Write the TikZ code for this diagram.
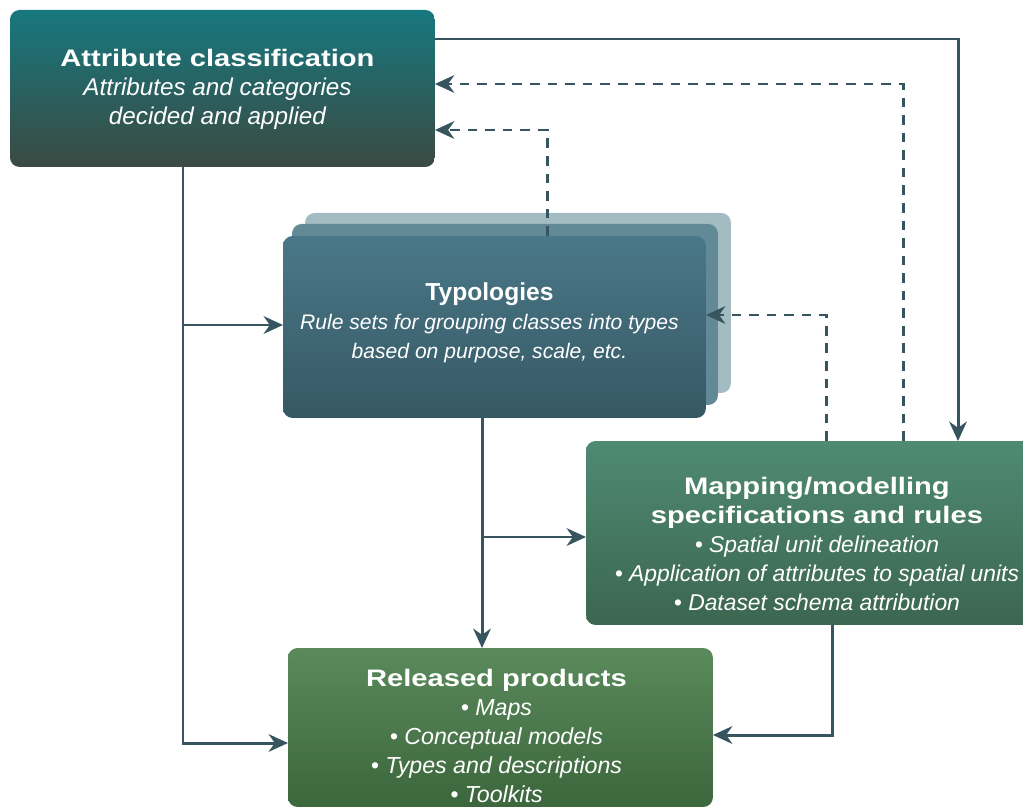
\documentclass[tikz,border=0pt]{standalone}
\usepackage{fontspec}
\setmainfont{Liberation Sans}
\newfontfamily\ttlfont[FakeStretch=1.22]{Liberation Sans}
\usetikzlibrary{arrows.meta,calc}

\definecolor{linkcol}{HTML}{37555F}
\definecolor{attrtop}{HTML}{17787F}
\definecolor{attrbot}{HTML}{3B4A42}
\definecolor{typtop}{HTML}{4A7888}
\definecolor{typbot}{HTML}{365864}
\definecolor{typmid}{HTML}{628A96}
\definecolor{typback}{HTML}{A3BCC2}
\definecolor{maptop}{HTML}{4F8A73}
\definecolor{mapbot}{HTML}{3C6650}
\definecolor{reltop}{HTML}{5A8A5C}
\definecolor{relbot}{HTML}{3C663C}

\tikzset{
  box/.style={anchor=north west, rounded corners=5.5pt, inner sep=0pt, outer sep=0pt},
  txt/.style={text=white, align=center, inner sep=0pt},
  link/.style={draw=linkcol, line width=1.7pt, -{Stealth[length=11pt,width=10pt,inset=3.5pt]}},
  dlink/.style={link, dash pattern=on 5.5pt off 4.5pt},
}
\newcommand{\ttl}[1]{{\fontsize{13.6}{16.5}\ttlfont\bfseries #1}}

\begin{document}
\begin{tikzpicture}[x=0.02cm,y=-0.02cm]
\useasboundingbox (0,0) rectangle (1023,807);
%%%%%%%%%%%%%%%%
\node[box, minimum width=8.5cm, minimum height=3.14cm, top color=attrtop, bottom color=attrbot] (attr) at (10,10) {};
\node[txt, font=\fontsize{13.8}{16.5}\selectfont] (attrtext) at ($(attr.center)+(-5,1)$)
  {\ttl{Attribute classification}\\ \itshape Attributes and categories\\ \itshape decided and applied};
%%%%%%%%%%%%%%%%
\node[box, minimum width=8.52cm, minimum height=3.6cm, fill=typback] (typback) at (305,213) {};
\node[box, minimum width=8.52cm, minimum height=3.62cm, fill=typmid] (typmid) at (292,224) {};
\node[box, minimum width=8.46cm, minimum height=3.64cm, top color=typtop, bottom color=typbot] (typ) at (283,236) {};
\node[txt, font=\fontsize{12}{16.5}\selectfont] (typtext) at ($(typ.center)+(-5,-4.5)$)
  {{\fontsize{14}{16.5}\selectfont\bfseries Typologies}\\ \itshape Rule sets for grouping classes into types\\
   \itshape based on purpose, scale, etc.};
%%%%%%%%%%%%%%%%
\node[box, minimum width=9.4cm, minimum height=3.68cm, top color=maptop, bottom color=mapbot] (map) at (586,441) {};
\node[txt, font=\fontsize{13}{16.5}\selectfont] (maptext) at ($(map.center)+(-4,10.5)$)
  {\ttl{Mapping/modelling}\\ \ttl{specifications and rules}\\ \itshape • Spatial unit delineation\\
   \itshape • Application of attributes to spatial units\\ \itshape • Dataset schema attribution};
%%%%%%%%%%%%%%%%
\node[box, minimum width=8.5cm, minimum height=3.18cm, top color=reltop, bottom color=relbot] (rel) at (288,648) {};
\node[txt, font=\fontsize{13.2}{16.5}\selectfont] (reltext) at ($(rel.center)+(-4,8.5)$)
  {\ttl{Released products}\\ \itshape • Maps\\ \itshape • Conceptual models\\
   \itshape • Types and descriptions\\ \itshape • Toolkits};
%%%%%%%%%%%%%%%%
\coordinate (fork1) at (183,325);
\coordinate (fork2) at (483,537);
%%%%%%%%%%%%%%%%
\draw[link] ($(attr.north east)+(0,29)$) -| ($(map.north west)+(372,0)$);
\draw[dlink] ($(map.north west)+(317,0)$) |- ($(attr.north east)+(0,74)$);
\draw[dlink] ($(typ.north west)+(264,0)$) |- ($(attr.north east)+(0,120)$);
\draw[dlink] ($(map.north west)+(240,0)$) |- ($(typ.north east)+(0,79)$);
%%%%%%%%%%%%%%%%
\draw[link] ($(attr.south west)+(173,0)$) |- ($(rel.north west)+(0,95)$);
\draw[link] (fork1) -- (fork1 -| typ.west);
\draw[link] ($(typ.south west)+(199,0)$) -- ($(rel.north west)+(194,0)$);
\draw[link] (fork2) -- (fork2 -| map.west);
\draw[link] ($(map.south west)+(246,0)$) |- ($(rel.north east)+(0,87)$);
\end{tikzpicture}
\end{document}
